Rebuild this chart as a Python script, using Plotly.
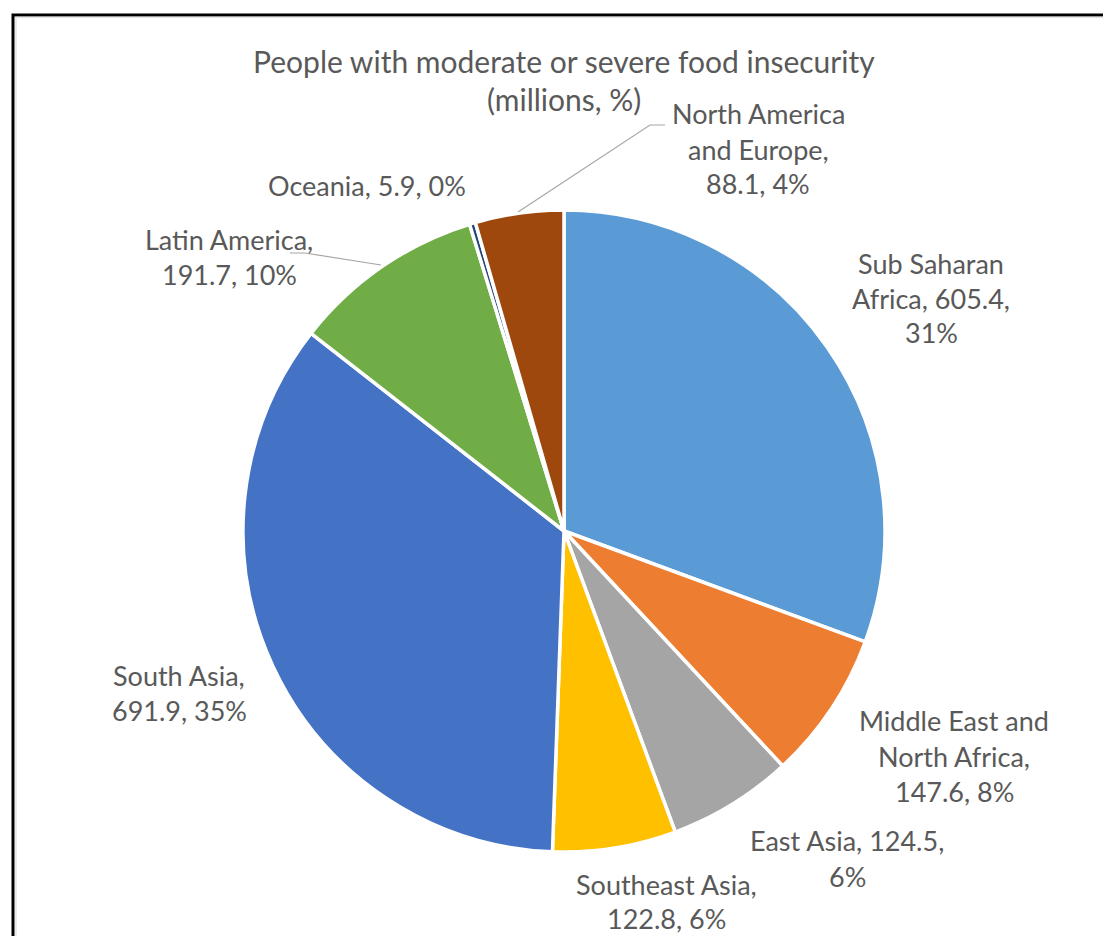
import plotly.graph_objects as go

# ---- data ----
categories = ["Sub Saharan Africa", "Middle East and North Africa", "East Asia",
              "Southeast Asia", "South Asia", "Latin America", "Oceania",
              "North America and Europe"]
values = [605.4, 147.6, 124.5, 122.8, 691.9, 191.7, 5.9, 88.1]
pct_labels = [31, 8, 6, 6, 35, 10, 0, 4]
colors = ["#5B9BD5", "#ED7D31", "#A5A5A5", "#FFC000", "#4472C4", "#70AD47",
          "#264478", "#9E480E"]
title_lines = ["People with moderate or severe food insecurity", "(millions, %)"]

# ---- layout (pixel geometry) ----
W, H = 1103, 936
cx, cy, r = 564, 531, 321
FONT = "Lato"
TXT = "#595959"
LABEL_SIZE = 27
TITLE_SIZE = 30
DY = -2  # baseline correction

# words per line for each label, and line centres (px)
wraps = [[2, 2, 1], [3, 2, 2], [3, 1], [2, 2], [2, 2], [2, 2], [3], [2, 2, 2]]
label_pos = [
    (931, [265, 300, 334]),
    (954, [722, 758, 793]),
    (847, [842, 878]),
    (666, [886, 920]),
    (179, [677, 712]),
    (229, [242, 276]),
    (367, [188]),
    (758, [115, 151, 186]),
]

def px(x):
    return x / W

def py(y):
    return 1 - y / H

fig = go.Figure(go.Pie(
    labels=categories, values=values, sort=False, direction="clockwise",
    rotation=0, textinfo="none", hoverinfo="label+value+percent",
    marker=dict(colors=colors, line=dict(color="white", width=3.5)),
    domain=dict(x=[px(cx - r), px(cx + r)], y=[py(cy + r), py(cy - r)]),
    showlegend=False,
))

annotations = []
for i, (name, v, p) in enumerate(zip(categories, values, pct_labels)):
    words = f"{name}, {v:.1f}, {p}%".split(" ")
    lines, k = [], 0
    for n in wraps[i]:
        lines.append(" ".join(words[k:k + n]))
        k += n
    x, ys = label_pos[i]
    for line, y in zip(lines, ys):
        annotations.append(dict(text=line, x=px(x), y=py(y + DY), xref="paper", yref="paper",
                                xanchor="center", yanchor="middle", showarrow=False,
                                font=dict(family=FONT, size=LABEL_SIZE, color=TXT)))
for line, y in zip(title_lines, [63, 101]):
    annotations.append(dict(text=line, x=px(564), y=py(y + DY), xref="paper", yref="paper",
                            xanchor="center", yanchor="middle", showarrow=False,
                            font=dict(family=FONT, size=TITLE_SIZE, color=TXT)))

shapes = [
    # chart frame
    dict(type="rect", xref="paper", yref="paper", x0=px(13), y0=py(15), x1=px(W + 20), y1=py(H + 20),
         line=dict(color="black", width=3), fillcolor="rgba(0,0,0,0)", layer="below"),
    dict(type="path", xref="paper", yref="paper",
         path=f"M {px(16)} {py(H + 5)} L {px(16)} {py(17.5)} L {px(W + 5)} {py(17.5)}",
         line=dict(color="#E6E6E6", width=1.5)),
    # leader lines
    dict(type="path", xref="paper", yref="paper",
         path=f"M {px(518)} {py(212)} L {px(650)} {py(125)} L {px(665)} {py(125)}",
         line=dict(color="#A6A6A6", width=1.2)),
    dict(type="path", xref="paper", yref="paper",
         path=f"M {px(381)} {py(265)} L {px(305)} {py(253)} L {px(290)} {py(253)}",
         line=dict(color="#A6A6A6", width=1.2)),
]

fig.update_layout(
    width=W, height=H, margin=dict(l=0, r=0, t=0, b=0),
    paper_bgcolor="white", plot_bgcolor="white",
    annotations=annotations, shapes=shapes,
    font=dict(family=FONT, color=TXT),
)

fig.write_html("out.html")
